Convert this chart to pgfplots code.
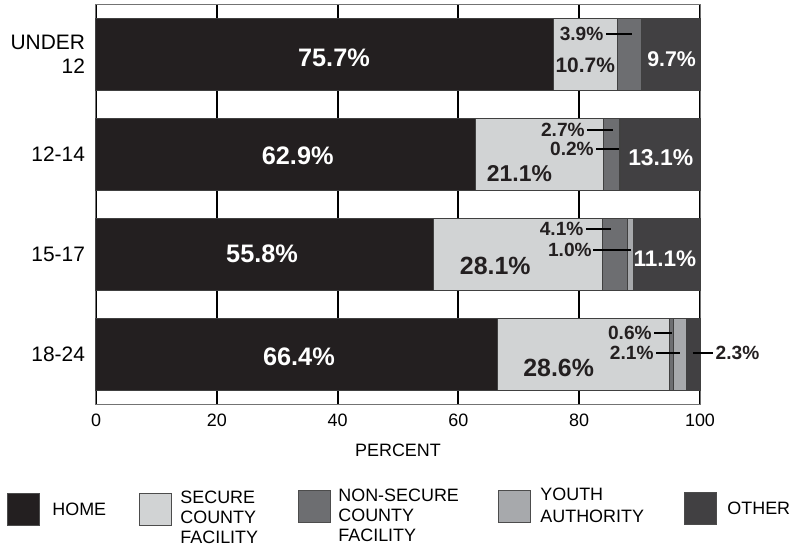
\documentclass[border=0pt]{standalone}
\usepackage{fontspec}
\setmainfont{Liberation Sans}
\usepackage{pgfplots}
\pgfplotsset{compat=1.18}

\definecolor{cHome}{HTML}{231F20}
\definecolor{cSecure}{HTML}{D1D3D4}
\definecolor{cNonsec}{HTML}{6D6E71}
\definecolor{cYouth}{HTML}{A7A9AC}
\definecolor{cOther}{HTML}{414042}

\newcommand{\lblbig}{\fontsize{12.7}{14}\bfseries\selectfont}
\newcommand{\lblmed}{\fontsize{11.5}{13}\bfseries\selectfont}
\newcommand{\lblsml}{\fontsize{9.6}{11}\bfseries\selectfont}
\newcommand{\lblreg}{\fontsize{9}{10}\selectfont}

\begin{document}
\begin{tikzpicture}[x=1bp,y=1bp]
\begin{axis}[
    at={(0,0)}, anchor=south west,
    width=302bp, height=200bp, scale only axis,
    xbar stacked, bar width=36bp,
    xmin=0, xmax=100, ymin=-0.5, ymax=3.5, y dir=reverse,
    xtick={0,20,...,100}, ytick={0,1,2,3},
    yticklabels={{UNDER\\12},{12-14},{15-17},{18-24}},
    yticklabel style={align=right, font=\fontsize{10.5}{12}\selectfont, xshift=-2bp},
    xticklabel style={font=\lblreg, yshift=-1.5bp},
    /pgf/number format/assume math mode=true,
    major tick length=0pt,
    xmajorgrids, grid style={black, line width=1bp},
    axis line style={black!55, line width=0.5bp},
    xlabel={PERCENT},
    xlabel style={font=\lblreg, at={(axis description cs:0.5,0)}, yshift=-23bp, anchor=center},
    every axis plot/.append style={draw=black!75, line width=0.5bp},
    clip=false,
    after end axis/.code={
      % labels in the bars
      \node[font=\lblbig, text=white] at (axis cs:39.4,0.04) {75.7\%};
      \node[font=\lblbig, text=white] at (axis cs:33.4,1.02) {62.9\%};
      \node[font=\lblbig, text=white] at (axis cs:27.5,2.0) {55.8\%};
      \node[font=\lblbig, text=white] at (axis cs:33.6,3.03) {66.4\%};
      \node[font=\fontsize{10.5}{12}\bfseries\selectfont, text=cHome] at (axis cs:81.0,0.11) {10.7\%};
      \node[font=\lblmed, text=cHome] at (axis cs:70.1,1.20) {21.1\%};
      \node[font=\fontsize{12.5}{14}\bfseries\selectfont, text=cHome] at (axis cs:66.1,2.12) {28.1\%};
      \node[font=\fontsize{12.5}{14}\bfseries\selectfont, text=cHome] at (axis cs:76.6,3.135) {28.6\%};
      \node[font=\fontsize{10.7}{12}\bfseries\selectfont, text=white] at (axis cs:95.3,0.05) {9.7\%};
      \node[font=\lblmed, text=white] at (axis cs:93.5,1.035) {13.1\%};
      \node[font=\fontsize{11.3}{13}\bfseries\selectfont, text=white] at (axis cs:94.2,2.05) {11.1\%};
      % callouts
      \draw[black, line width=0.6bp] (axis cs:84.4,-0.2) -- (axis cs:88.7,-0.2);
      \node[font=\lblsml, text=cHome, anchor=east, inner xsep=1bp] at (axis cs:84.4,-0.2) {3.9\%};
      \draw[black, line width=0.6bp] (axis cs:81.3,0.76) -- (axis cs:85.6,0.76);
      \node[font=\lblsml, text=cHome, anchor=east, inner xsep=1bp] at (axis cs:81.3,0.76) {2.7\%};
      \draw[black, line width=0.6bp] (axis cs:82.8,0.95) -- (axis cs:86.6,0.95);
      \node[font=\lblsml, text=cHome, anchor=east, inner xsep=1bp] at (axis cs:82.8,0.95) {0.2\%};
      \draw[black, line width=0.6bp] (axis cs:81.1,1.75) -- (axis cs:85.3,1.75);
      \node[font=\lblsml, text=cHome, anchor=east, inner xsep=1bp] at (axis cs:81.1,1.75) {4.1\%};
      \draw[black, line width=0.6bp] (axis cs:82.3,1.96) -- (axis cs:88.6,1.96);
      \node[font=\lblsml, text=cHome, anchor=east, inner xsep=0.5bp] at (axis cs:82.3,1.96) {1.0\%};
      \draw[black, line width=0.6bp] (axis cs:92.4,2.79) -- (axis cs:95.4,2.79);
      \node[font=\lblsml, text=cHome, anchor=east, inner xsep=1bp] at (axis cs:92.4,2.79) {0.6\%};
      \draw[black, line width=0.6bp] (axis cs:92.7,2.99) -- (axis cs:96.7,2.99);
      \node[font=\lblsml, text=cHome, anchor=east, inner xsep=1bp] at (axis cs:92.7,2.99) {2.1\%};
      \draw[black, line width=0.6bp] (axis cs:98.8,2.99) -- (axis cs:102.2,2.99);
      \node[font=\lblsml, text=cHome, anchor=west, inner xsep=1bp] at (axis cs:102.2,2.99) {2.3\%};
    },
]
\addplot[fill=cHome, draw=black!75] coordinates {(75.7,0) (62.9,1) (55.8,2) (66.4,3)};
\addplot[fill=cSecure, draw=black!75] coordinates {(10.7,0) (21.1,1) (28.1,2) (28.6,3)};
\addplot[fill=cNonsec, draw=black!75] coordinates {(3.9,0) (2.7,1) (4.1,2) (0.6,3)};
\addplot[fill=cYouth, draw=black!75] coordinates {(0,0) (0.2,1) (1.0,2) (2.1,3)};
\addplot[fill=cOther, draw=black!75] coordinates {(9.7,0) (13.1,1) (11.1,2) (2.3,3)};
\end{axis}

% legend
\draw[fill=cHome, draw=black!70, line width=0.5bp] (-44,-44.5) rectangle (-28,-60.5);
\node[font=\lblreg, anchor=west, inner sep=0pt] at (-22,-52.5) {HOME};
\draw[fill=cSecure, draw=black!70, line width=0.5bp] (22,-44.5) rectangle (38,-60.5);
\node[font=\lblreg, anchor=north west, align=left, inner sep=0pt] at (42,-43.3) {SECURE\\COUNTY\\FACILITY};
\draw[fill=cNonsec, draw=black!70, line width=0.5bp] (101.5,-43) rectangle (117.5,-59);
\node[font=\lblreg, anchor=north west, align=left, inner sep=0pt] at (121,-42.3) {NON-SECURE\\COUNTY\\FACILITY};
\draw[fill=cYouth, draw=black!70, line width=0.5bp] (201.5,-43) rectangle (217.5,-59);
\node[font=\fontsize{9}{11}\selectfont, anchor=north west, align=left, inner sep=0pt] at (222,-41.8) {YOUTH\\AUTHORITY};
\draw[fill=cOther, draw=black!70, line width=0.5bp] (294.5,-44) rectangle (310.5,-60);
\node[font=\lblreg, anchor=west, inner sep=0pt] at (315.5,-52) {OTHER};

\path (-48,-73) rectangle (348.5,202);
\end{tikzpicture}
\end{document}
